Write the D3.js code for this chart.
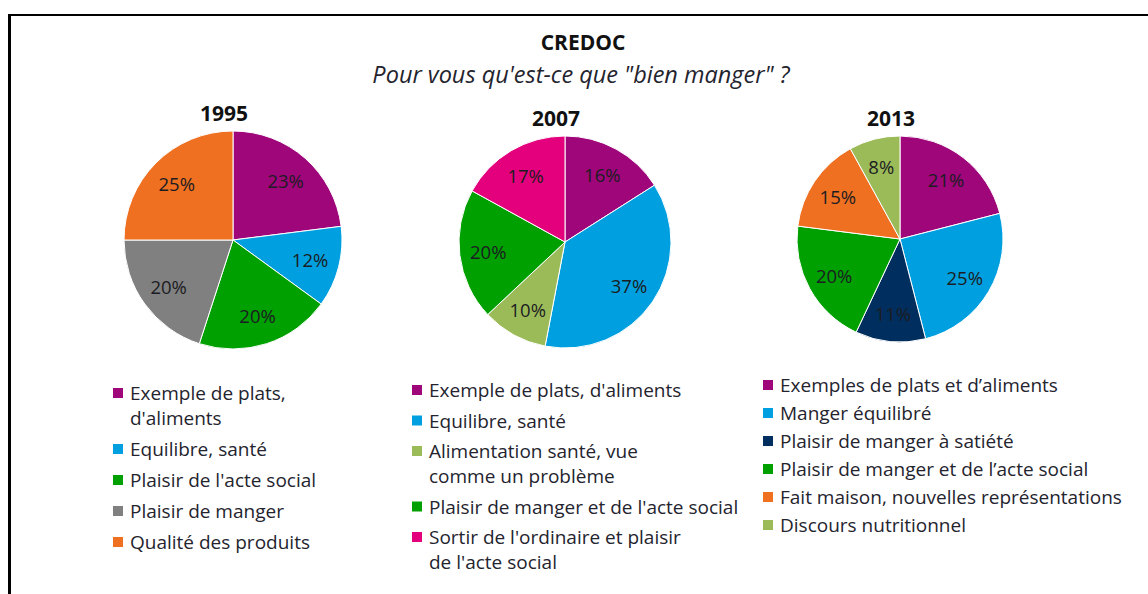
<!DOCTYPE html>
<html>
<head>
<meta charset="utf-8">
<script src="https://cdn.jsdelivr.net/npm/d3@7"></script>
<style>
  body { margin: 0; background: #fff; }
  svg { display: block; }
</style>
</head>
<body>
<div id="main-container"></div>
<script>
// DATA
const years = ["1995", "2007", "2013"];

const labels1995 = [["Exemple de plats,", "d'aliments"], ["Equilibre, santé"], ["Plaisir de l'acte social"], ["Plaisir de manger"], ["Qualité des produits"]];
const values1995 = [23, 12, 20, 20, 25];

const labels2007 = [["Exemple de plats, d'aliments"], ["Equilibre, santé"], ["Alimentation santé, vue", "comme un problème"], ["Plaisir de manger et de l'acte social"], ["Sortir de l'ordinaire et plaisir", "de l'acte social"]];
const values2007 = [16, 37, 10, 20, 17];

const labels2013 = [["Exemples de plats et d\u2019aliments"], ["Manger équilibré"], ["Plaisir de manger à satiété"], ["Plaisir de manger et de l\u2019acte social"], ["Fait maison, nouvelles représentations"], ["Discours nutritionnel"]];
const values2013 = [21, 25, 11, 20, 15, 8];

// COLOUR CONSTANTS
const purple = "#9e067a", blue = "#00a0e0", green = "#00a000", grey = "#808080",
      orange = "#ee7020", pink = "#e4007c", lightGreen = "#9bbb59", navy = "#002f5f";
const colors1995 = [purple, blue, green, grey, orange];
const colors2007 = [purple, blue, lightGreen, green, pink];
const colors2013 = [purple, blue, navy, green, orange, lightGreen];

// DRAWING SETUP
const W = 1148, H = 594;
const font = "'Open Sans', Lato, sans-serif";
const textColor = "#24242e";

const svg = d3.select("#main-container").append("svg")
    .attr("width", W)
    .attr("height", H)
    .style("font-family", font);

// frame
svg.append("line").attr("x1", 9.5).attr("x2", 9.5).attr("y1", 14).attr("y2", H)
    .attr("stroke", "#000").attr("stroke-width", 3);
svg.append("line").attr("x1", 8).attr("x2", W).attr("y1", 15).attr("y2", 15)
    .attr("stroke", "#000").attr("stroke-width", 2);

svg.append("text").attr("x", 583).attr("y", 50)
    .attr("text-anchor", "middle").attr("font-weight", "bold").attr("font-size", 21)
    .attr("fill", "#111").text("CREDOC");
svg.append("text").attr("x", 581).attr("y", 83)
    .attr("text-anchor", "middle").attr("font-style", "italic").attr("font-size", 23.5)
    .attr("fill", textColor).text("Pour vous qu'est-ce que \"bien manger\" ?");

const pies = [
    {year: years[0], labels: labels1995, values: values1995, colors: colors1995,
     cx: 233, cy: 240, r: 109, legend: {x: 113, y: 393, step: 31}},
    {year: years[1], labels: labels2007, values: values2007, colors: colors2007,
     cx: 565, cy: 242, r: 106, legend: {x: 412, y: 390, step: 30.5}},
    {year: years[2], labels: labels2013, values: values2013, colors: colors2013,
     cx: 900, cy: 239, r: 103, legend: {x: 763, y: 385, step: 28}}
];

function drawPie(p) {
    const g = svg.append("g").attr("transform", `translate(${p.cx}, ${p.cy})`);
    const pie = d3.pie().sort(null).value(d => d);
    const arcs = pie(p.values);
    const arc = d3.arc().innerRadius(0).outerRadius(p.r);
    const labelArc = d3.arc().innerRadius(p.r * 0.73).outerRadius(p.r * 0.73);

    g.selectAll(".slice")
        .data(arcs)
        .enter().append("path")
        .attr("class", "slice")
        .attr("d", arc)
        .style("fill", (d, i) => p.colors[i])
        .style("stroke", "#fff")
        .style("stroke-width", 1);

    g.selectAll(".pct")
        .data(arcs)
        .enter().append("text")
        .attr("class", "pct")
        .attr("transform", d => `translate(${labelArc.centroid(d)})`)
        .attr("text-anchor", "middle")
        .attr("dominant-baseline", "central")
        .attr("font-size", 18.5)
        .attr("fill", "#1c1c22")
        .text(d => d.data + "%");

    svg.append("text")
        .attr("x", p.cx - 9).attr("y", p.cy - p.r - 10)
        .attr("text-anchor", "middle")
        .attr("font-weight", "bold").attr("font-size", 21)
        .attr("fill", "#111")
        .text(p.year);

    // legend
    let y = p.legend.y;
    p.labels.forEach((lines, i) => {
        svg.append("rect")
            .attr("x", p.legend.x).attr("y", y - 5)
            .attr("width", 10).attr("height", 10)
            .attr("fill", p.colors[i]);
        lines.forEach((line, j) => {
            svg.append("text")
                .attr("x", p.legend.x + 17).attr("y", y + j * 25)
                .attr("dominant-baseline", "central")
                .attr("font-size", 19)
                .attr("fill", textColor)
                .text(line);
        });
        y += p.legend.step + (lines.length - 1) * 25;
    });
}

pies.forEach(drawPie);
</script>
</body>
</html>
